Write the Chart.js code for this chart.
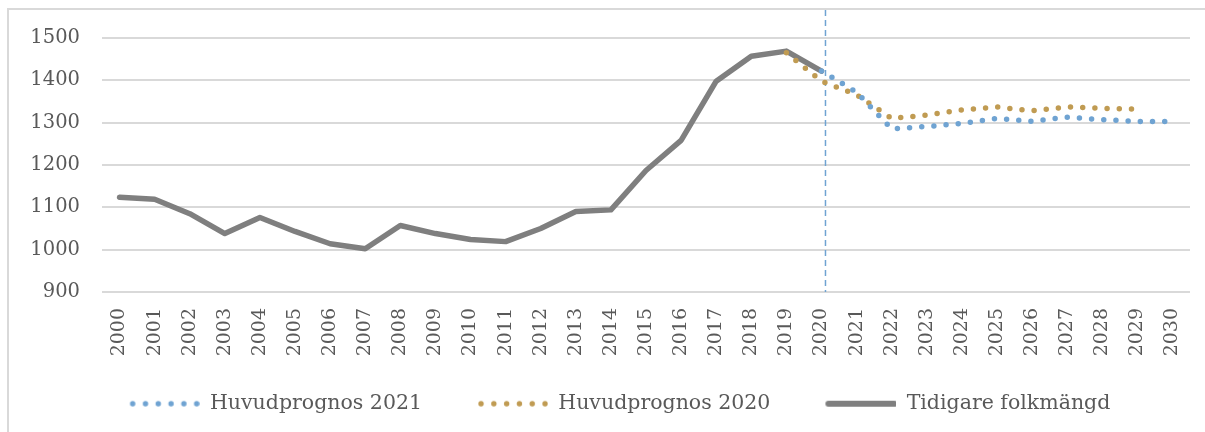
<!DOCTYPE html>
<html>
<head>
<meta charset="utf-8">
<script src="https://cdn.jsdelivr.net/npm/chart.js@4/dist/chart.umd.min.js"></script>
<style>
    html, body { margin: 0; padding: 0; background: #fff; }
    #wrap { position: relative; width: 1205px; height: 432px; overflow: hidden; }
    #frame { position: absolute; left: 7px; top: 8px; width: 1220px; height: 450px; border: 2px solid #d9d9d9; box-sizing: border-box; }
    #lineChart { position: absolute; left: 0; top: 0; }
</style>
</head>
<body>
<div id="wrap">
    <div id="frame"></div>
    <canvas id="lineChart" width="1205" height="432"></canvas>
</div>
<script>
// Years on the x axis
const years = [
    "2000", "2001", "2002", "2003", "2004", "2005", "2006", "2007", "2008", "2009", "2010",
    "2011", "2012", "2013", "2014", "2015", "2016", "2017", "2018", "2019", "2020",
    "2021", "2022", "2023", "2024", "2025", "2026", "2027", "2028", "2029", "2030"
];

// Tidigare folkmängd (outcome 2000-2020)
const tidigare = [
    1124, 1119, 1085, 1038, 1076, 1043, 1014, 1002, 1057, 1038, 1024,
    1019, 1050, 1090, 1094, 1187, 1258, 1398, 1457, 1469, 1422,
    null, null, null, null, null, null, null, null, null, null
];

// Huvudprognos 2021 (2020-2030)
const prognos2021 = [
    null, null, null, null, null, null, null, null, null, null, null,
    null, null, null, null, null, null, null, null, null, 1422,
    1372, 1285, 1291, 1298, 1310, 1303, 1313, 1307, 1303, 1303
];

// Huvudprognos 2020 (2019-2029)
const prognos2020 = [
    null, null, null, null, null, null, null, null, null, null, null,
    null, null, null, null, null, null, null, null, 1465, 1398,
    1366, 1310, 1318, 1330, 1337, 1328, 1337, 1334, 1332, null
];

// y axis tick labels
const yTicks = [900, 1000, 1100, 1200, 1300, 1400, 1500];

const seriesNames = ["Huvudprognos 2021", "Huvudprognos 2020", "Tidigare folkmängd"];
const blue = "#6fa3d2";
const gold = "#c09b52";
const grey = "#7f7f7f";
const textColor = "#595959";
const fontFamily = "'DejaVu Serif', serif";

// legend symbols: 44px of empty space on the left acts as the gap between items
const iconGap = 44;

function dottedIcon(color) {
    const c = document.createElement("canvas");
    c.width = iconGap + 72;
    c.height = 8;
    const g = c.getContext("2d");
    g.fillStyle = color;
    for (let i = 0; i < 6; i++) {
        g.beginPath();
        g.arc(iconGap + 5 + i * 12.8, 4, 2.7, 0, Math.PI * 2);
        g.fill();
    }
    return c;
}

function solidIcon(color) {
    const c = document.createElement("canvas");
    c.width = iconGap + 72;
    c.height = 8;
    const g = c.getContext("2d");
    g.strokeStyle = color;
    g.lineWidth = 6;
    g.lineCap = "round";
    g.beginPath();
    g.moveTo(iconGap + 4, 4);
    g.lineTo(iconGap + 70, 4);
    g.stroke();
    return c;
}

const legendIcons = [dottedIcon(blue), dottedIcon(gold), solidIcon(grey)];

// dashed marker at the last outcome year
const markerLine = {
    id: "markerLine",
    beforeDatasetsDraw(chart) {
        const ctx = chart.ctx;
        const x = chart.scales.x.getPixelForValue(years.indexOf("2020")) + 4;
        ctx.save();
        ctx.strokeStyle = blue;
        ctx.lineWidth = 1.5;
        ctx.setLineDash([6, 4]);
        ctx.beginPath();
        ctx.moveTo(x, 10);
        ctx.lineTo(x, chart.chartArea.bottom);
        ctx.stroke();
        ctx.restore();
    }
};

const dotted = {
    borderWidth: 5.5,
    borderDash: [0, 12.2],
    borderCapStyle: "round",
    pointRadius: 0,
    tension: 0,
    fill: false
};

const ctx = document.getElementById("lineChart").getContext("2d");

new Chart(ctx, {
    type: "line",
    data: {
        labels: years,
        datasets: [
            Object.assign({ label: seriesNames[0], data: prognos2021, borderColor: blue, backgroundColor: blue }, dotted),
            Object.assign({ label: seriesNames[1], data: prognos2020, borderColor: gold, backgroundColor: gold }, dotted),
            {
                label: seriesNames[2],
                data: tidigare,
                borderColor: grey,
                backgroundColor: grey,
                borderWidth: 5.5,
                borderCapStyle: "round",
                borderJoinStyle: "round",
                pointRadius: 0,
                tension: 0,
                fill: false
            }
        ]
    },
    options: {
        responsive: false,
        animation: false,
        layout: {
            padding: { left: 4, right: 15, top: 38, bottom: 8 }
        },
        scales: {
            x: {
                offset: true,
                grid: { display: false },
                border: { display: false },
                ticks: {
                    autoSkip: false,
                    minRotation: 90,
                    maxRotation: 90,
                    padding: 8,
                    color: textColor,
                    font: { family: fontFamily, size: 19 }
                },
                afterFit(scale) {
                    scale.height = 91.5;
                }
            },
            y: {
                min: yTicks[0],
                max: yTicks[yTicks.length - 1],
                border: { display: false },
                grid: { color: "#d9d9d9", lineWidth: 2, drawTicks: false },
                ticks: {
                    stepSize: yTicks[1] - yTicks[0],
                    padding: 22,
                    color: textColor,
                    font: { family: fontFamily, size: 19.5 },
                    callback: (value) => String(value)
                },
                afterFit(scale) {
                    scale.width = 98;
                }
            }
        },
        plugins: {
            legend: {
                position: "bottom",
                labels: {
                    usePointStyle: true,
                    pointStyleWidth: iconGap + 72,
                    padding: 10,
                    color: textColor,
                    font: { family: fontFamily, size: 20.5 },
                    generateLabels(chart) {
                        const items = Chart.defaults.plugins.legend.labels.generateLabels(chart);
                        items.forEach((item, i) => { item.pointStyle = legendIcons[i]; });
                        return items;
                    }
                }
            },
            tooltip: { enabled: false }
        }
    },
    plugins: [markerLine]
});
</script>
</body>
</html>
